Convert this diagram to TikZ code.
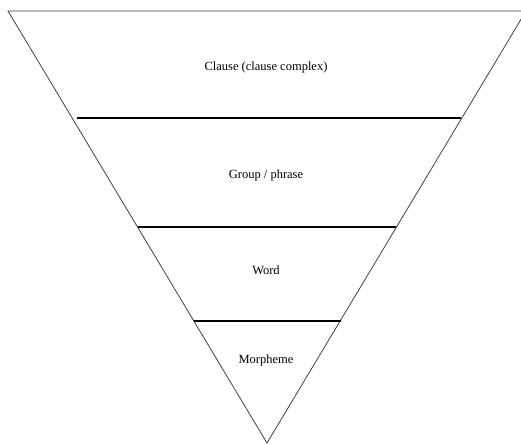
\documentclass[tikz,border=0pt]{standalone}
\usepackage{fontspec}
\setmainfont{Liberation Serif}
\usetikzlibrary{positioning}
\tikzstyle{lbl} = [text centered,font=\fontsize{12.5}{15}\selectfont]
\tikzstyle{edge} = [draw=black!75,line width=0.8pt]
\tikzstyle{level} = [draw=black,line width=1.8pt]

\begin{document}
\begin{tikzpicture}[x=1pt,y=-1pt]
	\useasboundingbox (0,0) rectangle (521,444);
	\clip (0,0) rectangle (521,444);

	\coordinate (topleft) at (8,11);
	\coordinate (topright) at (526,11);
	\coordinate (apex) at (267,443);

	\coordinate (clauseL) at (77,118);
	\coordinate (clauseR) at (461,118);
	\coordinate (groupL) at (138,227);
	\coordinate (groupR) at (396,227);
	\coordinate (wordL) at (194,321);
	\coordinate (wordR) at (341,321);

	\node[lbl] (clause) at (266,67) {Clause (clause complex)};
	\node[lbl] (group) at (266,175) {Group / phrase};
	\node[lbl] (word) at (266,270) {Word};
	\node[lbl] (morpheme) at (266,360) {Morpheme};

	\draw[edge] (topleft) -- (topright) -- (apex) -- cycle;

	\draw[level] (clauseL) -- (clauseR);
	\draw[level] (groupL) -- (groupR);
	\draw[level] (wordL) -- (wordR);

\end{tikzpicture}
\end{document}
